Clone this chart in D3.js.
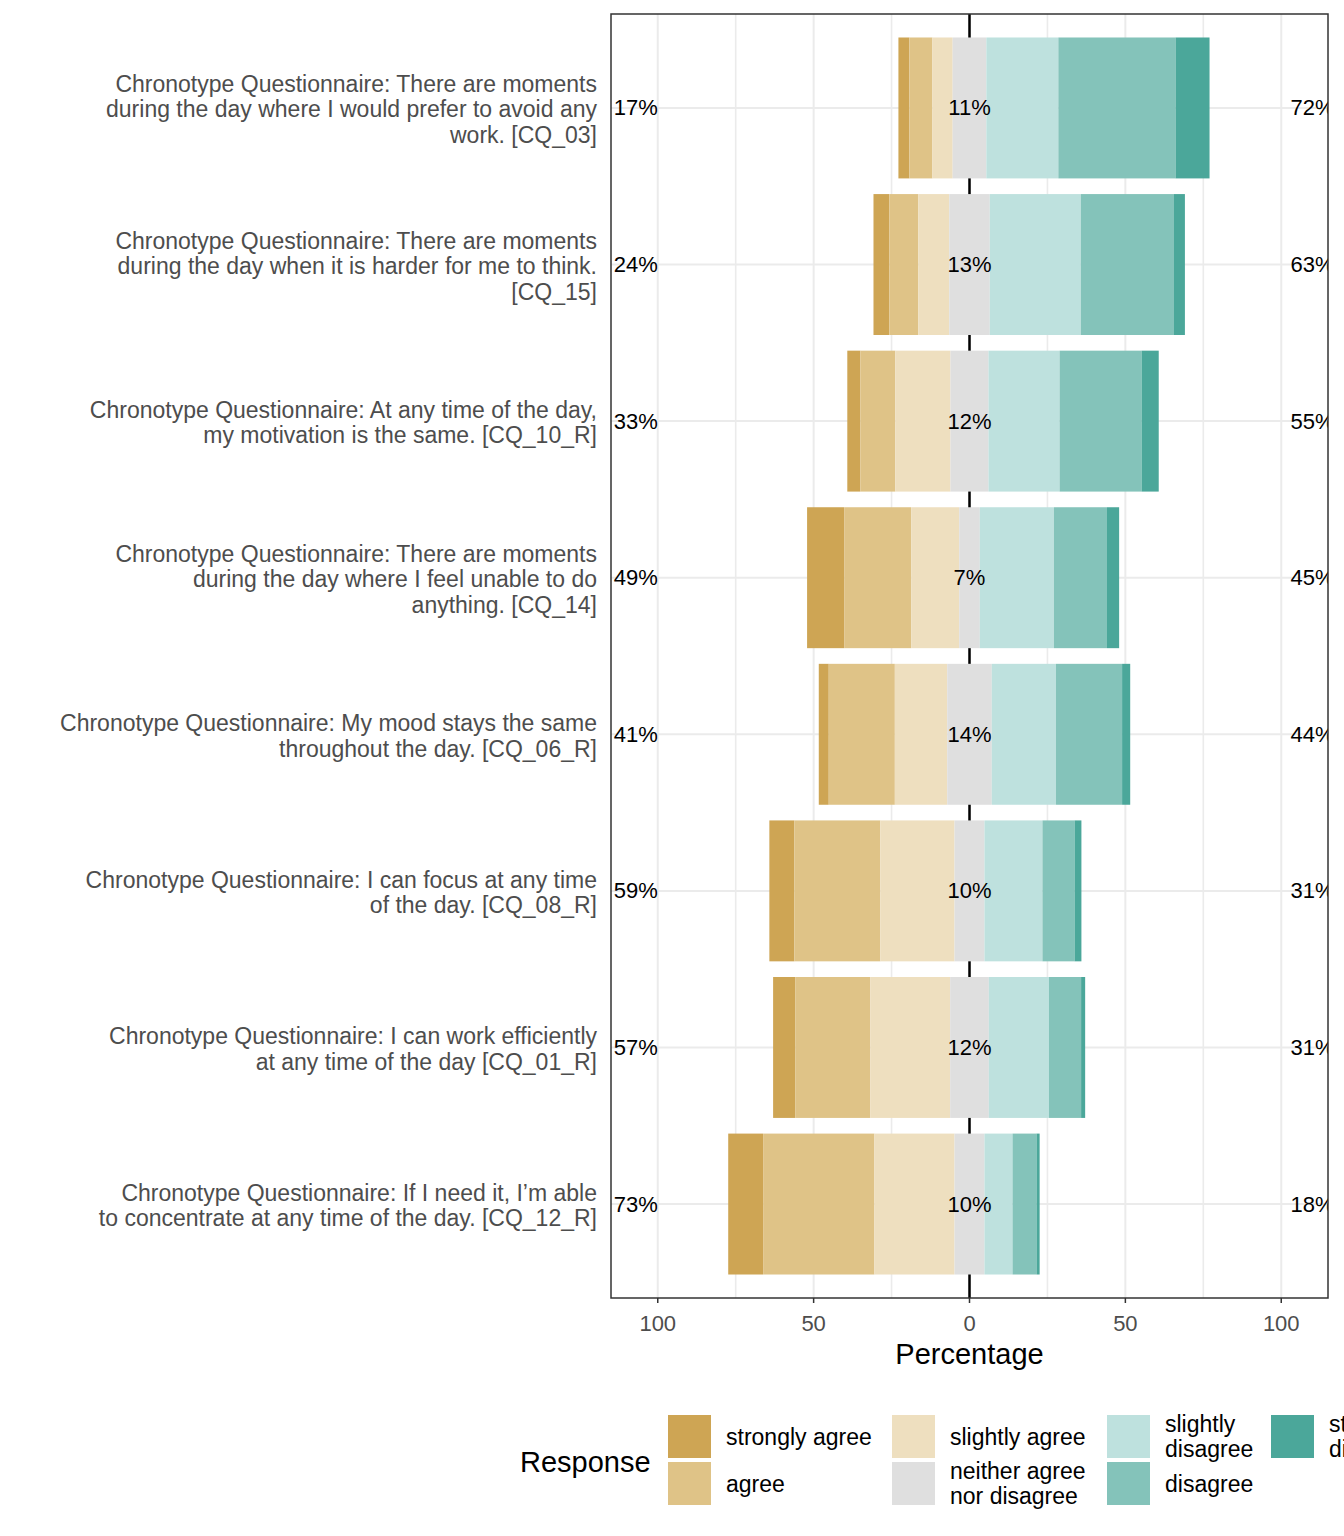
<!DOCTYPE html>
<html lang="en">
<head>
<meta charset="utf-8">
<title>Chronotype Questionnaire</title>
<script src="https://cdn.jsdelivr.net/npm/d3@7"></script>
<style>
	body { margin: 0; background: white; }
	svg { display: block; font-family: "Liberation Sans", Arial, Helvetica, sans-serif; }
</style>
</head>
<body>
<svg id="chart" width="1344" height="1536"></svg>
<script>
// response levels, left (agree) to right (disagree)
var levels = ["strongly agree", "agree", "slightly agree", "neither agree\nnor disagree", "slightly\ndisagree", "disagree", "strongly\ndisagree"]
var colors = ["#CEA554", "#DFC387", "#EEDFBF", "#DFDFDF", "#BEE1DE", "#84C3BA", "#4BA79A"]

// items, top to bottom
var items = [
	"Chronotype Questionnaire: There are moments\nduring the day where I would prefer to avoid any\nwork. [CQ_03]",
	"Chronotype Questionnaire: There are moments\nduring the day when it is harder for me to think.\n[CQ_15]",
	"Chronotype Questionnaire: At any time of the day,\nmy motivation is the same. [CQ_10_R]",
	"Chronotype Questionnaire: There are moments\nduring the day where I feel unable to do\nanything. [CQ_14]",
	"Chronotype Questionnaire: My mood stays the same\nthroughout the day. [CQ_06_R]",
	"Chronotype Questionnaire: I can focus at any time\nof the day. [CQ_08_R]",
	"Chronotype Questionnaire: I can work efficiently\nat any time of the day [CQ_01_R]",
	"Chronotype Questionnaire: If I need it, I\u2019m able\nto concentrate at any time of the day. [CQ_12_R]"
]

// percentages per item, in the order of levels
var pct = [
	[3.5, 7.4, 6.5, 10.8, 23.1, 37.6, 10.9],
	[5.1, 9.3, 9.9, 13.0, 29.2, 29.9, 3.5],
	[4.2, 11.2, 17.7, 12.2, 22.8, 26.3, 5.5],
	[11.9, 21.5, 15.4, 6.6, 23.8, 17.0, 3.9],
	[3.2, 21.2, 16.8, 14.3, 20.6, 21.2, 2.6],
	[8.0, 27.6, 23.8, 9.6, 18.6, 10.3, 2.2],
	[7.1, 24.1, 25.6, 12.4, 19.3, 10.3, 1.3],
	[11.2, 35.7, 25.7, 9.6, 9.0, 7.7, 1.0]
]

var xTicks = [-100, -50, 0, 50, 100]
var xMinor = [-75, -25, 25, 75]

var panel = {left: 611, right: 1328, top: 14, bottom: 1298}
var svg = d3.select("#chart")

var x = d3.scaleLinear().domain([-115, 115]).range([panel.left, panel.right])
var y = d3.scalePoint().domain(d3.range(items.length)).range([panel.top, panel.bottom]).padding(0.6)
var bh = y.step() * 0.9

svg.append("rect").attr("width", 1344).attr("height", 1536).attr("fill", "white")

svg.append("defs").append("clipPath").attr("id", "pclip")
	.append("rect")
	.attr("x", panel.left).attr("y", panel.top)
	.attr("width", panel.right - panel.left).attr("height", panel.bottom - panel.top)

var g = svg.append("g").attr("clip-path", "url(#pclip)")

// grid
g.selectAll(".minor").data(xMinor).enter().append("line")
	.attr("x1", d => x(d)).attr("x2", d => x(d))
	.attr("y1", panel.top).attr("y2", panel.bottom)
	.attr("stroke", "#EBEBEB").attr("stroke-width", 1.6)
g.selectAll(".major").data(xTicks).enter().append("line")
	.attr("x1", d => x(d)).attr("x2", d => x(d))
	.attr("y1", panel.top).attr("y2", panel.bottom)
	.attr("stroke", "#EBEBEB").attr("stroke-width", 2)
g.selectAll(".hgrid").data(items).enter().append("line")
	.attr("x1", panel.left).attr("x2", panel.right)
	.attr("y1", (d, i) => y(i)).attr("y2", (d, i) => y(i))
	.attr("stroke", "#EBEBEB").attr("stroke-width", 2)

// zero line
g.append("line")
	.attr("x1", x(0)).attr("x2", x(0))
	.attr("y1", panel.top).attr("y2", panel.bottom)
	.attr("stroke", "black").attr("stroke-width", 2.5)

// stacked bars, neutral split around zero
var segs = []
pct.forEach(function(row, i) {
	var start = -(row[0] + row[1] + row[2] + row[3] / 2)
	row.forEach(function(v, k) {
		segs.push({row: i, k: k, x0: start, x1: start + v})
		start += v
	})
})
g.selectAll(".seg").data(segs).enter().append("rect")
	.attr("x", d => x(d.x0))
	.attr("width", d => x(d.x1) - x(d.x0))
	.attr("y", d => y(d.row) - bh / 2)
	.attr("height", bh)
	.attr("fill", d => colors[d.k])

// percent labels
var lab = g.append("g").attr("font-size", 22).attr("fill", "black").attr("dominant-baseline", "central")
pct.forEach(function(row, i) {
	var left = Math.round(row[0] + row[1] + row[2])
	var right = Math.round(row[4] + row[5] + row[6])
	var mid = Math.round(row[3])
	lab.append("text").attr("x", x(-100)).attr("y", y(i)).attr("text-anchor", "end").text(left + "%")
	lab.append("text").attr("x", x(0)).attr("y", y(i)).attr("text-anchor", "middle").text(mid + "%")
	lab.append("text").attr("x", x(103)).attr("y", y(i)).attr("text-anchor", "start").text(right + "%")
})

// panel border
svg.append("rect")
	.attr("x", panel.left).attr("y", panel.top)
	.attr("width", panel.right - panel.left).attr("height", panel.bottom - panel.top)
	.attr("fill", "none").attr("stroke", "#333333").attr("stroke-width", 1.5)

// y labels
var lh = 25.5
items.forEach(function(t, i) {
	var lines = t.split("\n")
	var txt = svg.append("text")
		.attr("x", 597).attr("text-anchor", "end")
		.attr("font-size", 23).attr("fill", "#4D4D4D")
		.attr("dominant-baseline", "central")
	lines.forEach(function(s, j) {
		txt.append("tspan").attr("x", 597)
			.attr("y", y(i) + 1.5 + (j - (lines.length - 1) / 2) * lh)
			.text(s)
	})
})

// x axis
svg.selectAll(".xt").data(xTicks).enter().append("text")
	.attr("x", d => x(d)).attr("y", 1323)
	.attr("text-anchor", "middle").attr("dominant-baseline", "central")
	.attr("font-size", 22).attr("fill", "#4D4D4D")
	.text(d => Math.abs(d))
svg.selectAll(".xtick").data(xTicks).enter().append("line")
	.attr("x1", d => x(d)).attr("x2", d => x(d))
	.attr("y1", panel.bottom).attr("y2", panel.bottom + 5)
	.attr("stroke", "#333333").attr("stroke-width", 1.5)
svg.append("text").attr("x", x(0)).attr("y", 1354)
	.attr("text-anchor", "middle").attr("dominant-baseline", "central")
	.attr("font-size", 29).attr("fill", "black").text("Percentage")

// legend
var leg = svg.append("g")
leg.append("text").attr("x", 520).attr("y", 1462)
	.attr("dominant-baseline", "central").attr("font-size", 29).text("Response")
var colX = [668, 892, 1107, 1271]
var rowY = [1415, 1462]
levels.forEach(function(l, k) {
	var cx = colX[Math.floor(k / 2)], cy = rowY[k % 2]
	leg.append("rect").attr("x", cx).attr("y", cy).attr("width", 43).attr("height", 43).attr("fill", colors[k])
	var lines = l.split("\n")
	var t = leg.append("text").attr("font-size", 23).attr("fill", "black").attr("dominant-baseline", "central")
	lines.forEach(function(s, j) {
		t.append("tspan").attr("x", cx + 58)
			.attr("y", cy + 21.5 + (j - (lines.length - 1) / 2) * 25)
			.text(s)
	})
})
</script>
</body>
</html>
